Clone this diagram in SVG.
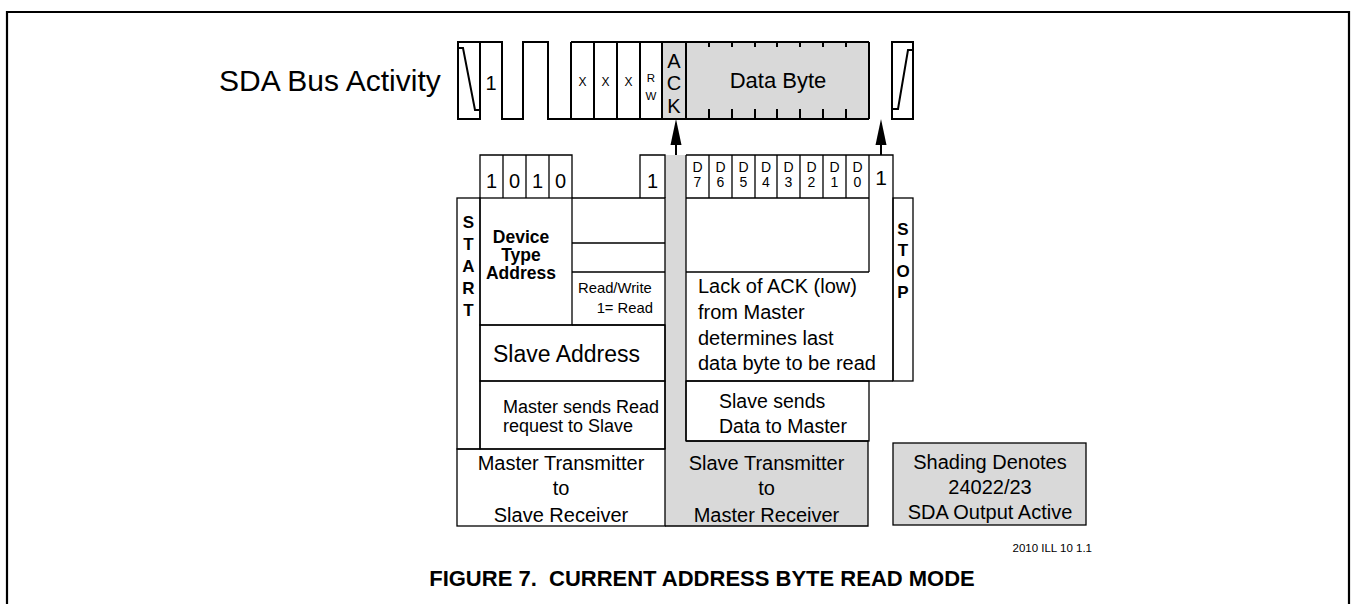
<svg xmlns="http://www.w3.org/2000/svg" width="1351" height="604" viewBox="0 0 1351 604">
<style>
text{font-family:"Liberation Sans",Arial,sans-serif;fill:#000}
.wave{fill:none;stroke:#000;stroke-width:2}
.box{fill:none;stroke:#000;stroke-width:1.3}
.shade{fill:#d9d9d9}
.b{font-weight:bold}
.m{text-anchor:middle}
.e{text-anchor:end}
.pre{white-space:pre}
.arrow{stroke:#000;stroke-width:2}
.head{fill:#000}
</style>
<rect width="1351" height="604" fill="#fff"/>
<path d="M7,604 V12 H1349 V604" fill="none" stroke="#000" stroke-width="2.2"/>

<g id="title"><text x="219" y="91" font-size="30">SDA Bus Activity</text></g>

<g id="waveform">
<rect class="shade" x="662" y="42" width="207" height="77"/>
<rect class="wave" x="458" y="42" width="22" height="77"/>
<polyline class="wave" points="459,48 463,48 475,110 480,110"/>
<path class="wave" d="M480,42 H502 V119 H523 V42 H548 V119 H869 M571,42 H869 M571,42 V119 M594,42 V119 M617,42 V119 M640,42 V119 M662,42 V119 M686,42 V119 M869,42 V119"/>
<path stroke="#000" stroke-width="2" d="M709,42 V47 M732,42 V47 M755,42 V47 M777,42 V47 M800,42 V47 M823,42 V47 M846,42 V47 M709,109 V119 M732,109 V119 M755,109 V119 M777,109 V119 M800,109 V119 M823,109 V119 M846,109 V119"/>
<rect class="wave" x="892" y="42" width="21" height="77"/>
<polyline class="wave" points="893,109 898,109 908,50 913,50"/>
<text x="491" y="90" font-size="20" class="m">1</text>
<text x="582.5" y="86" font-size="12" class="m">X</text>
<text x="605.5" y="86" font-size="12" class="m">X</text>
<text x="628.5" y="86" font-size="12" class="m">X</text>
<text x="651" y="82" font-size="11.5" class="m">R</text>
<text x="651" y="100" font-size="11.5" class="m">W</text>
<text x="674" y="68" font-size="20" class="m">A</text>
<text x="674" y="90" font-size="20" class="m">C</text>
<text x="674" y="113" font-size="20" class="m">K</text>
<text x="778" y="88" font-size="22" class="m">Data Byte</text>
</g>

<g id="shaded-column">
<path class="shade" d="M665,155 H686 V441 H868 V526 H665 Z"/>
<path class="box" d="M686,441 H868 V526 H665"/>
</g>

<g id="address-bits">
<path class="box" d="M480,198 V155 H572 V198 M503,155 V198 M526,155 V198 M549,155 V198 M640,198 V155 H665 V198"/>
<text x="491.5" y="188" font-size="20" class="m">1</text>
<text x="514.5" y="188" font-size="20" class="m">0</text>
<text x="537.5" y="188" font-size="20" class="m">1</text>
<text x="560.5" y="188" font-size="20" class="m">0</text>
<text x="652.5" y="188" font-size="20" class="m">1</text>
</g>

<g id="data-bits">
<path class="box" d="M686,155 H893 V381 M686,155 V441 M709,155 V198 M732,155 V198 M755,155 V198 M777,155 V198 M800,155 V198 M823,155 V198 M846,155 V198 M869,155 V272 M686,198 H869 M686,272 H869"/>
<g font-size="14" class="m">
<text x="697.5" y="172">D</text><text x="697.5" y="187">7</text>
<text x="720.5" y="172">D</text><text x="720.5" y="187">6</text>
<text x="743.5" y="172">D</text><text x="743.5" y="187">5</text>
<text x="766" y="172">D</text><text x="766" y="187">4</text>
<text x="788.5" y="172">D</text><text x="788.5" y="187">3</text>
<text x="811.5" y="172">D</text><text x="811.5" y="187">2</text>
<text x="834.5" y="172">D</text><text x="834.5" y="187">1</text>
<text x="857.5" y="172">D</text><text x="857.5" y="187">0</text>
</g>
<text x="881" y="185" font-size="21" class="m">1</text>
</g>

<g id="start">
<rect class="box" x="457" y="198" width="23" height="251"/>
<g class="b m" font-size="17">
<text x="468.5" y="228">S</text><text x="468.5" y="250">T</text><text x="468.5" y="272">A</text><text x="468.5" y="294">R</text><text x="468.5" y="316">T</text>
</g>
</g>

<g id="device-type">
<rect class="box" x="480" y="198" width="92" height="127"/>
<g class="b m" font-size="17.5">
<text x="521" y="243">Device</text><text x="521" y="261">Type</text><text x="521" y="279">Address</text>
</g>
</g>

<g id="read-write">
<path class="box" d="M572,198 H665 V449 M572,243 H665 M572,272 H665 M572,325 H665"/>
<text x="578" y="293" font-size="14.8">Read/Write</text>
<text x="653" y="313" font-size="14.8" class="e">1= Read</text>
</g>

<g id="slave-address">
<rect class="box" x="480" y="325" width="185" height="56"/>
<text x="493" y="362" font-size="23">Slave Address</text>
</g>

<g id="master-sends">
<rect class="box" x="480" y="381" width="185" height="68"/>
<text x="503" y="413" font-size="18">Master sends Read</text>
<text x="503" y="432" font-size="18">request to Slave</text>
</g>

<g id="stop">
<rect class="box" x="893" y="198" width="20" height="183"/>
<g class="b m" font-size="17">
<text x="903" y="235">S</text><text x="903" y="256">T</text><text x="903" y="277">O</text><text x="903" y="298">P</text>
</g>
</g>

<g id="lack-of-ack">
<path class="box" d="M686,381 H893"/>
<g font-size="20">
<text x="698" y="293">Lack of ACK (low)</text>
<text x="698" y="319">from Master</text>
<text x="698" y="345">determines last</text>
<text x="698" y="370">data byte to be read</text>
</g>
</g>

<g id="slave-sends">
<rect class="box" x="686" y="381" width="183" height="60" fill="#fff"/>
<text x="719" y="408" font-size="19.5">Slave sends</text>
<text x="719" y="433" font-size="19.5">Data to Master</text>
</g>

<g id="master-transmitter">
<rect class="box" x="457" y="449" width="208" height="77"/>
<g font-size="20" class="m">
<text x="561" y="470">Master Transmitter</text><text x="561" y="495">to</text><text x="561" y="522">Slave Receiver</text>
</g>
</g>

<g id="slave-transmitter">
<g font-size="20" class="m">
<text x="766.5" y="470">Slave Transmitter</text><text x="766.5" y="495">to</text><text x="766.5" y="522">Master Receiver</text>
</g>
</g>

<g id="legend">
<rect x="893" y="443" width="193" height="82" fill="#d9d9d9" stroke="#000" stroke-width="1.3"/>
<g font-size="20" class="m">
<text x="990" y="469">Shading Denotes</text><text x="990" y="494">24022/23</text><text x="990" y="519">SDA Output Active</text>
</g>
</g>

<g id="connectors">
<line class="arrow" x1="676" y1="155" x2="676" y2="140"/>
<polygon class="head" points="676,119 681.5,145 670.5,145"/>
<line class="arrow" x1="881" y1="155" x2="881" y2="140"/>
<polygon class="head" points="881,119 886.5,145 875.5,145"/>
</g>

<g id="caption">
<text x="1092" y="552" font-size="11.5" class="e">2010 ILL 10 1.1</text>
<text x="702" y="586" font-size="22" class="b m pre">FIGURE 7.  CURRENT ADDRESS BYTE READ MODE</text>
</g>
</svg>
